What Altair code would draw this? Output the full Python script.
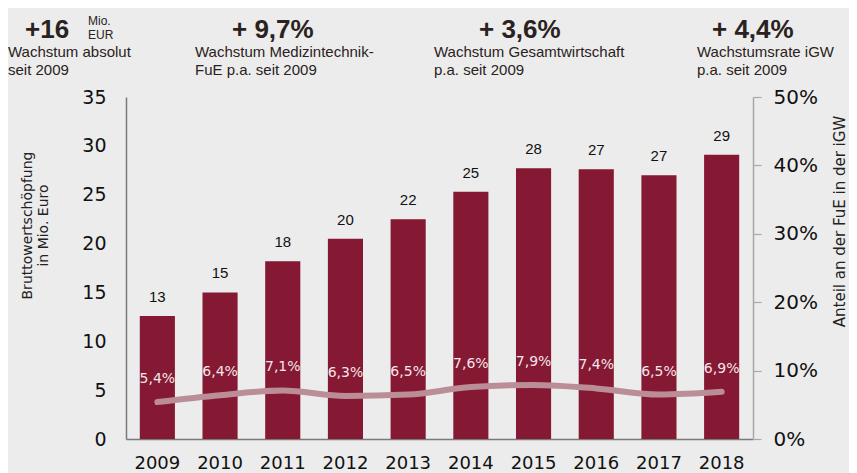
import altair as alt
import pandas as pd

# ---------------- data ----------------
years = ["2009", "2010", "2011", "2012", "2013", "2014", "2015", "2016", "2017", "2018"]
value_added = [12.6, 15.0, 18.2, 20.5, 22.5, 25.3, 27.7, 27.6, 27.0, 29.1]
value_labels = ["13", "15", "18", "20", "22", "25", "28", "27", "27", "29"]
share_pct = [5.4, 6.4, 7.1, 6.3, 6.5, 7.6, 7.9, 7.4, 6.5, 6.9]
share_labels = ["5,4%", "6,4%", "7,1%", "6,3%", "6,5%", "7,6%", "7,9%", "7,4%", "6,5%", "6,9%"]

headlines = ["+16", "+ 9,7%", "+ 3,6%", "+ 4,4%"]
caption_1 = ["Wachstum absolut", "Wachstum Medizintechnik-", "Wachstum Gesamtwirtschaft", "Wachstumsrate iGW"]
caption_2 = ["seit 2009", "FuE p.a. seit 2009", "p.a. seit 2009", "p.a. seit 2009"]
unit_lines = ["Mio.", "EUR"]

left_title = ["Bruttowertschöpfung", "in Mio. Euro"]
right_title = "Anteil an der FuE in der iGW"

df = pd.DataFrame({
    "year": years,
    "value": value_added,
    "vlabel": value_labels,
    "share": share_pct,
    "slabel": share_labels,
})

# ---------------- style ----------------
BG = "#ececec"
BAR = "#851833"
LINE = "#bb8e97"
AXF = "DejaVu Sans"
HF = "Liberation Sans"
TXT = "#2a2220"

x_enc = alt.X(
    "year:N",
    sort=years,
    scale=alt.Scale(paddingInner=0.44, paddingOuter=0.22),
    axis=alt.Axis(
        title=None, labelAngle=0, labelFont=AXF, labelFontSize=18, labelColor="#111111",
        labelPadding=15, ticks=False, tickSize=0, domainColor="#7a7a7a", domainWidth=1.5,
        grid=False,
    ),
)

y_left = alt.Y(
    "value:Q",
    scale=alt.Scale(domain=[0, 35], nice=False),
    axis=alt.Axis(
        orient="left", values=[0, 5, 10, 15, 20, 25, 30, 35], grid=False,
        ticks=False, tickSize=0, labelPadding=20, labelFont=AXF, labelFontSize=19,
        labelColor="#111111", domainColor="#7a7a7a", domainWidth=1.5,
        title=left_title, titleFont=AXF, titleFontSize=14, titleFontWeight="normal",
        titleColor="#222222", titleAngle=270, titleX=-99, titleY=128,
        titleAlign="center", titleBaseline="middle", titleLineHeight=16,
    ),
)

base = alt.Chart(df)

bars = base.mark_bar(color=BAR).encode(x=x_enc, y=y_left)
bar_text = base.mark_text(
    font="Liberation Sans", fontSize=15, color="#111111", baseline="middle", dy=-19
).encode(x=x_enc, y=alt.Y("value:Q"), text="vlabel:N")

left_layer = alt.layer(bars, bar_text)

y_right = alt.Y(
    "share:Q",
    scale=alt.Scale(domain=[0, 50], nice=False),
    axis=alt.Axis(
        orient="right", values=[0, 10, 20, 30, 40, 50], grid=False,
        labelExpr="datum.value + '%'", ticks=True, tickSize=8, tickColor="#a8a8a8",
        tickWidth=1.2, labelPadding=12, labelFont=AXF, labelFontSize=20,
        labelColor="#111111", domainColor="#a8a8a8", domainWidth=1.5,
        title=right_title, titleFont=AXF, titleFontSize=15, titleFontWeight="normal",
        titleColor="#222222", titleAngle=270, titleX=86, titleY=124,
        titleAlign="center", titleBaseline="middle",
    ),
)

line = base.mark_line(color=LINE, strokeWidth=6, interpolate="monotone", strokeCap="round").encode(
    x=x_enc, y=y_right
)
line_text = base.mark_text(
    font=AXF, fontSize=14, color="#f4e6e9", baseline="middle", dy=-23
).encode(x=x_enc, y=alt.Y("share:Q"), text="slabel:N")

right_layer = alt.layer(line, line_text)

# ---------------- annotations above the chart ----------------
one = pd.DataFrame({"k": [0]})


def note(text, x, y, size, weight="normal", font=HF):
    return alt.Chart(one).mark_text(
        text=text, align="left", baseline="alphabetic", font=font,
        fontSize=size, fontWeight=weight, color=TXT,
    ).encode(x=alt.value(x), y=alt.value(y))


head_x = [-101, 106, 353, 586]
cap_x = [-118, 69, 308, 571]
notes = []
for i in range(4):
    notes.append(note(headlines[i], head_x[i], -59, 26, "bold"))
    notes.append(note(caption_1[i], cap_x[i], -40, 15))
    notes.append(note(caption_2[i], cap_x[i], -22, 15))
notes.append(note(unit_lines[0], -38, -72, 12))
notes.append(note(unit_lines[1], -38, -58, 12))

chart = (
    alt.layer(left_layer, right_layer, *notes)
    .resolve_scale(y="independent")
    .properties(
        width=627, height=342, background=BG,
        autosize=alt.AutoSizeParams(type="none"),
        padding={"left": 118, "top": 89, "right": 96, "bottom": 34},
    )
    .configure_view(stroke=None)
)

chart.save("out.html", embed_options={"renderer": "svg", "actions": False})
